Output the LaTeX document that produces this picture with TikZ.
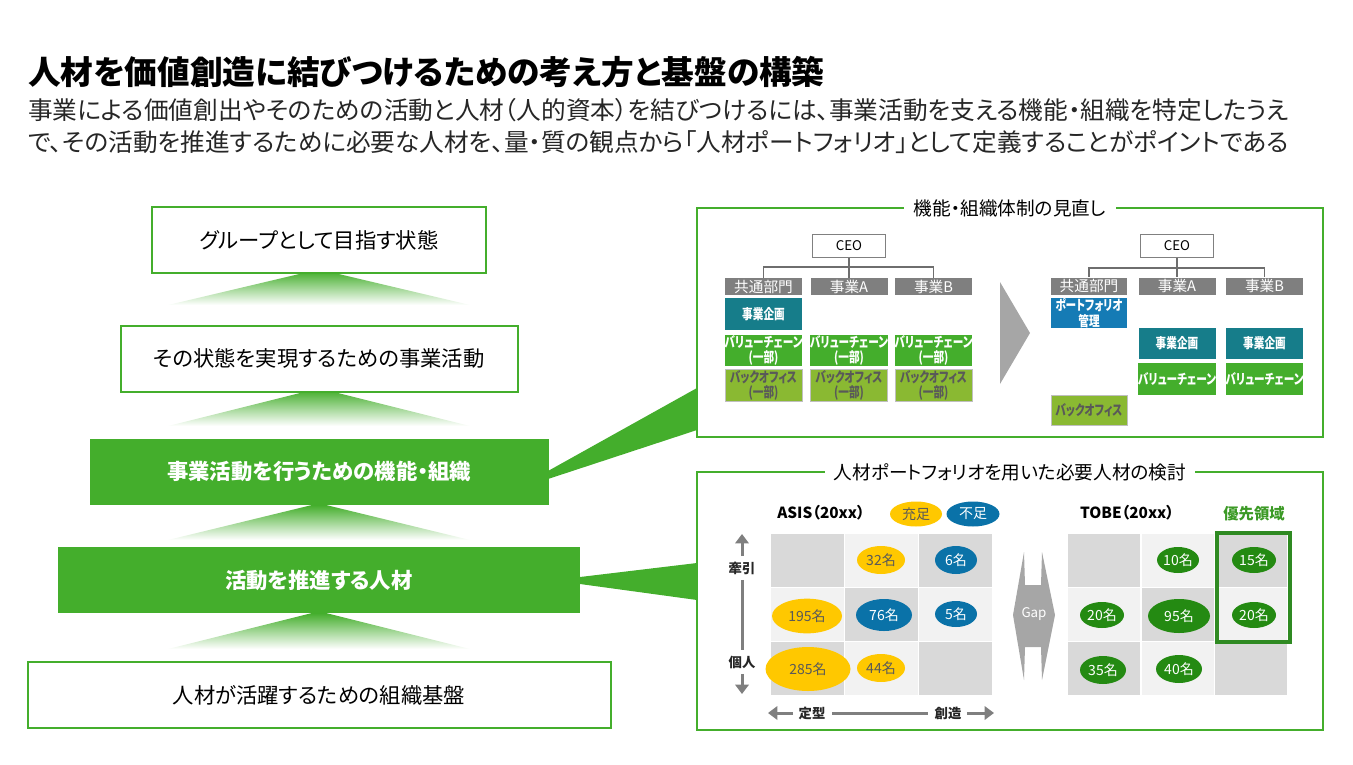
\documentclass[tikz,border=0pt]{standalone}
\usepackage{fontspec}
\setmainfont{Noto Sans CJK JP}[RawFeature={+palt}]
\newfontfamily\jpnarrow{Noto Sans CJK JP}[RawFeature={+palt}, FakeStretch=0.76]
\usepackage{tikz}
\usetikzlibrary{shapes.geometric,arrows.meta}

\definecolor{hrgreen}{HTML}{44AE2C}
\definecolor{hrteal}{HTML}{167D8A}
\definecolor{hrblue}{HTML}{157BB5}
\definecolor{hrblue2}{HTML}{0A72A8}
\definecolor{hrolive}{HTML}{8AB932}
\definecolor{hryellow}{HTML}{FFC800}
\definecolor{hrdkgreen}{HTML}{248A12}
\definecolor{prioline}{HTML}{2F8A22}
\definecolor{priotext}{HTML}{3C9A26}
\definecolor{headgray}{HTML}{7F7F7F}
\definecolor{boxgray}{HTML}{808080}
\definecolor{linegray}{HTML}{BFBFBF}
\definecolor{orggray}{HTML}{6E6E6E}
\definecolor{cellD}{HTML}{D9D9D9}
\definecolor{cellL}{HTML}{F2F2F2}
\definecolor{axgray}{HTML}{7F7F7F}
\definecolor{gapgray}{HTML}{A6A6A6}
\definecolor{txtgray}{HTML}{595959}
\definecolor{txtdark}{HTML}{262626}

\tikzset{
  lead/.style={anchor=west, inner sep=0pt, text=txtdark, font=\fontsize{18.5}{22}\selectfont},
  goalbox/.style={draw=hrgreen, line width=1.5pt, fill=white, minimum height=49.5pt, inner sep=0pt, font=\fontsize{16}{19}\selectfont},
  keybox/.style={fill=hrgreen, minimum height=49.5pt, inner sep=0pt, text=white, font=\fontsize{16}{19}\selectfont\bfseries},
  riser/.style={top color=hrgreen, bottom color=white},
  panel/.style={draw=hrgreen, line width=2pt},
  paneltitle/.style={fill=white, inner xsep=7pt, inner ysep=1pt, font=\fontsize{14}{17}\selectfont},
  ceobox/.style={draw=boxgray, line width=1pt, fill=white, minimum width=55pt, minimum height=17.5pt, inner sep=0pt, font=\fontsize{10}{12}\selectfont},
  headbox/.style={fill=headgray, text=white, minimum width=57.75pt, minimum height=12.75pt, inner sep=0pt, font=\fontsize{11}{12}\selectfont},
  unitbox/.style={minimum width=57.75pt, inner sep=0pt, align=center, font=\jpnarrow\fontsize{10.5}{11.5}\selectfont\bfseries},
  planbox/.style={unitbox, fill=hrteal, text=white},
  portbox/.style={unitbox, fill=hrblue, text=white},
  chainbox/.style={unitbox, fill=hrgreen, text=white},
  backbox/.style={unitbox, fill=hrolive, draw=linegray, line width=0.75pt, text=txtgray},
  orgline/.style={draw=orggray, line width=1.2pt},
  pill/.style={ellipse, inner sep=0pt, font=\fontsize{10.5}{12}\selectfont},
  pillY/.style={pill, fill=hryellow, text=txtgray},
  pillB/.style={pill, fill=hrblue2, text=white},
  pillG/.style={pill, fill=hrdkgreen, text=white},
  pz/.style 2 args={minimum width=#1, minimum height=#2},
  gridhead/.style={inner sep=0pt, text=black, font=\fontsize{11.5}{13}\selectfont\bfseries},
  axislbl/.style={inner sep=1pt, text=txtdark, font=\fontsize{10}{12}\selectfont\bfseries},
  axisarr/.style={draw=axgray, line width=2.25pt, -{Triangle[width=10pt,length=7pt]}},
  axisline/.style={draw=axgray, line width=2.25pt},
}

\begin{document}
\begin{tikzpicture}[x=0.75pt,y=-0.75pt]
    \useasboundingbox (0,0) rectangle (1353,764);

    % heading
    \node[anchor=west, inner sep=0pt, font=\fontsize{24.5}{29}\selectfont\bfseries] (ttl) at (28,72) {人材を価値創造に結びつけるための考え方と基盤の構築};
    \node[lead] (sub1) at (28,110) {事業による価値創出やそのための活動と人材（人的資本）を結びつけるには、事業活動を支える機能・組織を特定したうえ};
    \node[lead] (sub2) at (28,142) {で、その活動を推進するために必要な人材を、量・質の観点から「人材ポートフォリオ」として定義することがポイントである};

    % pyramid
    \foreach \ya/\yb in {271/305, 390/426, 505/540, 613/649}
        \shade[riser] (168,\yb) -- (312,\ya) -- (326,\ya) -- (470,\yb) -- cycle;

    \node[goalbox, minimum width=250.5pt] (goal) at (319,240) {グループとして目指す状態};
    \node[goalbox, minimum width=297.75pt] (biz) at (319,358.5) {その状態を実現するための事業活動};
    \node[keybox, minimum width=344.25pt] (func) at (319,471.5) {事業活動を行うための機能・組織};
    \node[keybox, minimum width=391.5pt] (talent) at (319,580) {活動を推進する人材};
    \node[goalbox, minimum width=437.25pt] (base) at (319,695) {人材が活躍するための組織基盤};

    % callouts
    \fill[hrgreen] (548,471) -- (697,388) -- (697,430) -- (548,479) -- cycle;
    \fill[hrgreen] (580,577) -- (697,563) -- (697,600) -- (580,584) -- cycle;

    % panels
    \draw[panel] (697,208) rectangle (1323,437);
    \node[paneltitle] (orgttl) at (1010,208) {機能・組織体制の見直し};
    \draw[panel] (697,472) rectangle (1323,730);
    \node[paneltitle] (pfttl) at (1010,472) {人材ポートフォリオを用いた必要人材の検討};

    % org chart, before
    \node[ceobox] (ceoL) at (849,246) {CEO};
    \node[headbox] (hcomL) at (763.5,286.5) {共通部門};
    \node[headbox] (haL) at (849,286.5) {事業A};
    \node[headbox] (hbL) at (933.5,286.5) {事業B};
    \coordinate (jL) at (849,267);
    \draw[orgline] (ceoL.south) -- (haL.north);
    \draw[orgline] (hcomL.north) |- (jL) -| (hbL.north);

    \node[planbox, minimum height=24pt] (planL) at (763.5,314) {事業企画};
    \node[chainbox, minimum height=23.25pt] (vcL1) at (763.5,350.5) {バリューチェーン\\(一部)};
    \node[chainbox, minimum height=23.25pt] (vcL2) at (849,350.5) {バリューチェーン\\(一部)};
    \node[chainbox, minimum height=23.25pt] (vcL3) at (933.5,350.5) {バリューチェーン\\(一部)};
    \node[backbox, minimum height=24pt] (boL1) at (763.5,385.5) {バックオフィス\\(一部)};
    \node[backbox, minimum height=24pt] (boL2) at (849,385.5) {バックオフィス\\(一部)};
    \node[backbox, minimum height=24pt] (boL3) at (933.5,385.5) {バックオフィス\\(一部)};

    \fill[gapgray] (1000,282) -- (1030,333) -- (1000,384) -- cycle;

    % org chart, after
    \node[ceobox] (ceoR) at (1177,246) {CEO};
    \node[headbox, minimum width=57pt] (hcomR) at (1089,286) {共通部門};
    \node[headbox] (haR) at (1177,286) {事業A};
    \node[headbox] (hbR) at (1264.5,286) {事業B};
    \coordinate (jR) at (1177,268);
    \draw[orgline] (ceoR.south) -- (haR.north);
    \draw[orgline] (hcomR.north) |- (jR) -| (hbR.north);

    \node[portbox, minimum width=57pt, minimum height=22.5pt] (pfR) at (1089,313) {ポートフォリオ\\管理};
    \node[planbox, minimum height=23.25pt] (planA) at (1177,343.5) {事業企画};
    \node[planbox, minimum height=23.25pt] (planB) at (1264.5,343.5) {事業企画};
    \node[chainbox, minimum height=24pt] (vcA) at (1177,379) {バリューチェーン};
    \node[chainbox, minimum height=24pt] (vcB) at (1264.5,379) {バリューチェーン};
    \node[backbox, minimum width=57pt, minimum height=22.5pt] (boR) at (1089,410) {バックオフィス};

    % portfolio grids
    \foreach \r in {0,1,2}{
        \foreach \c in {0,1,2}{
            \pgfmathtruncatemacro\parity{mod(\r+\c,2)}
            \ifnum\parity=0 \def\cellc{cellD}\else\def\cellc{cellL}\fi
            \fill[\cellc] ({771+74*\c},{534+54*\r}) rectangle ++(72.5,53);
            \fill[\cellc] ({1068+73.5*\c},{534+54*\r}) rectangle ++(72,53);
        }
    }

    % ASIS
    \node[gridhead] (asis) at (821,513) {ASIS（20xx）};
    \node[pillY, pz={39pt}{18.75pt}] (enough) at (916,514) {充足};
    \node[pillB, pz={39.75pt}{18.75pt}] (lack) at (973,514) {不足};

    \node[pillY, pz={36pt}{21pt}] (a12) at (881,560) {32名};
    \node[pillB, pz={31.5pt}{21pt}] (a13) at (956,560) {6名};
    \node[pillY, pz={52.5pt}{26pt}] (a21) at (807,616) {195名};
    \node[pillB, pz={42pt}{24pt}] (a22) at (884,615) {76名};
    \node[pillB, pz={31.5pt}{19.5pt}] (a23) at (956,614) {5名};
    \node[pillY, pz={63.75pt}{33pt}] (a31) at (808,669) {285名};
    \node[pillY, pz={36pt}{21pt}] (a32) at (881,668) {44名};

    % axes
    \node[axislbl] (pull) at (742,568) {牽引};
    \node[axislbl] (indiv) at (742,662) {個人};
    \coordinate (axTop) at (742,534);
    \coordinate (axBot) at (742,694);
    \draw[axisarr, shorten <=3pt] (pull.north) -- (axTop);
    \draw[axisline, shorten <=3pt, shorten >=3pt] (pull.south) -- (indiv.north);
    \draw[axisarr, shorten <=3pt] (indiv.south) -- (axBot);

    \node[axislbl] (std) at (812,713) {定型};
    \node[axislbl] (crt) at (948,713) {創造};
    \coordinate (axL) at (768,713);
    \coordinate (axR) at (994,713);
    \draw[axisarr, shorten <=3pt] (std.west) -- (axL);
    \draw[axisline, shorten <=4pt, shorten >=4pt] (std.east) -- (crt.west);
    \draw[axisarr, shorten <=3pt] (crt.east) -- (axR);

    % gap
    \fill[gapgray] (1024,552) -- (1025,585) -- (1041,585) -- (1042,552) -- (1055,615)
        -- (1042,680) -- (1041,647) -- (1025,647) -- (1024,680) -- (1013,615) -- cycle;
    \node[text=white, font=\fontsize{10}{12}\selectfont] (gap) at (1034,614) {Gap};

    % TOBE
    \node[gridhead] (tobe) at (1127,513) {TOBE（20xx）};
    \node[gridhead, text=priotext] (prio) at (1254,514) {優先領域};
    \draw[prioline, line width=3pt] (1217,533) rectangle (1290,642);

    \node[pillG, pz={31.5pt}{19.5pt}] (t12) at (1178,560) {10名};
    \node[pillG, pz={33pt}{19.5pt}] (t13) at (1254,560) {15名};
    \node[pillG, pz={33pt}{19.5pt}] (t21) at (1102,615) {20名};
    \node[pillG, pz={46.5pt}{25.5pt}] (t22) at (1179,616) {95名};
    \node[pillG, pz={33pt}{19.5pt}] (t23) at (1254,615) {20名};
    \node[pillG, pz={34.5pt}{21pt}] (t31) at (1103,670) {35名};
    \node[pillG, pz={34.5pt}{21pt}] (t32) at (1179,669) {40名};
\end{tikzpicture}
\end{document}
